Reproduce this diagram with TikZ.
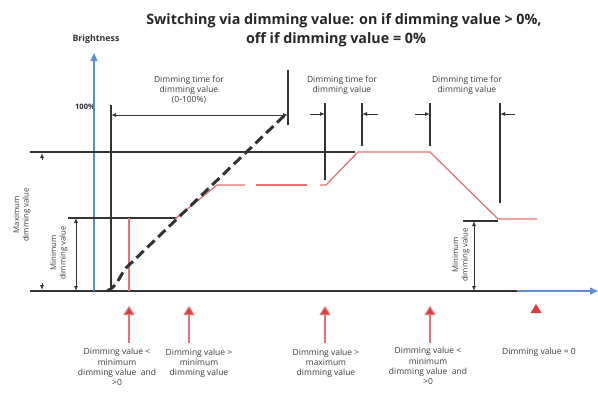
\documentclass[tikz,border=0pt]{standalone}
\usepackage{fontspec}
\setmainfont{Open Sans}
\usetikzlibrary{arrows.meta}
\definecolor{axblue}{HTML}{5B8FD0}
\definecolor{lnred}{HTML}{E57373}
\definecolor{arred}{HTML}{D93A3A}
\definecolor{txt}{HTML}{3A3A3A}
\begin{document}
\begin{tikzpicture}[x=1pt,y=-1pt,
  blk/.style={line width=1.2pt, draw=black!80},
  thin/.style={line width=0.9pt, draw=black!80},
  axis/.style={line width=1.2pt, draw=axblue},
  redln/.style={line width=1.3pt, draw=lnred},
  dashln/.style={line width=3pt, draw=black!80, dash pattern=on 10pt off 5pt},
  dim/.style={thin, {Latex[length=5pt,width=4pt]}-{Latex[length=5pt,width=4pt]}},
  tick/.style={thin, -{Latex[length=5pt,width=4pt]}},
  redarrow/.style={line width=1.2pt, draw=lnred, -{Triangle[length=9pt,width=11pt,fill=arred]}},
  lbl/.style={font=\fontsize{8.5}{10.2}\selectfont, text=txt, align=center, inner sep=0pt},
  rlbl/.style={font=\fontsize{7.8}{9.5}\selectfont, text=txt, align=center, inner sep=0pt, rotate=90},
  ttl/.style={font=\fontsize{14.3}{15}\selectfont\bfseries, text=black!85, inner sep=0pt}]
\useasboundingbox (0,0) rectangle (598,410);

% titles
\node[ttl] (title1) at (344,21) {Switching via dimming value: on if dimming value > 0\%,};
\node[ttl] (title2) at (336,40) {off if dimming value = 0\%};
\node[font=\fontsize{8.8}{10}\selectfont\bfseries, text=black!80, inner sep=0pt] (bright) at (96,39) {Brightness};
\node[font=\fontsize{7.5}{8}\selectfont\bfseries, text=black!85, inner sep=0pt] (hundred) at (85,107) {100\%};

% key coordinates
\coordinate (o) at (94,291);
\coordinate (ytop) at (94,53);
\coordinate (b0) at (30,291);
\coordinate (b1) at (517,291);
\coordinate (b2) at (598,291);
\coordinate (max0) at (30,152);
\coordinate (max1) at (355,152);
\coordinate (min0) at (68,218);
\coordinate (min1) at (177,218);
\coordinate (v1t) at (111,105); \coordinate (v1b) at (111,291);
\coordinate (v2t) at (288,70);  \coordinate (v2b) at (288,125);
\coordinate (v3t) at (325,103); \coordinate (v3b) at (325,180);
\coordinate (v4t) at (362,103); \coordinate (v4b) at (362,146);
\coordinate (v5t) at (430,103); \coordinate (v5b) at (430,146);
\coordinate (v6t) at (500,103); \coordinate (v6b) at (500,203);
\coordinate (rmin0) at (463,221); \coordinate (rmin1) at (498,221);

% axes
\draw[blk] (b0) -- (b1);
\draw[axis, -{Triangle[length=8pt,width=7pt]}] (b1) -- (b2);
\draw[axis, -{Triangle[length=8pt,width=7pt]}] (o) -- (ytop);

% horizontal level lines
\draw[blk] (max0) -- (max1);
\draw[blk] (min0) -- (min1);
\draw[blk] (rmin0) -- (rmin1);

% verticals
\draw[blk] (v1t) -- (v1b);
\draw[blk] (v2t) -- (v2b);
\draw[blk] (v3t) -- (v3b);
\draw[blk] (v4t) -- (v4b);
\draw[blk] (v5t) -- (v5b);
\draw[blk] (v6t) -- (v6b);

% dimension arrows
\coordinate (d1a) at (111,115); \coordinate (d1b) at (288,115);
\draw[dim] (d1a) -- (d1b);
\coordinate (t3) at (310,114); \coordinate (t3e) at (325,114);
\coordinate (t4) at (378,114); \coordinate (t4e) at (362,114);
\coordinate (t5) at (415,114); \coordinate (t5e) at (430,114);
\coordinate (t6) at (515,114); \coordinate (t6e) at (500,114);
\draw[tick] (t3) -- (t3e);
\draw[tick] (t4) -- (t4e);
\draw[tick] (t5) -- (t5e);
\draw[tick] (t6) -- (t6e);
\coordinate (lm0) at (76,218); \coordinate (lm1) at (76,291);
\draw[dim] (lm0) -- (lm1);
\coordinate (rm0) at (474,221); \coordinate (rm1) at (474,291);
\draw[dim] (rm0) -- (rm1);
\coordinate (mx0) at (42,160); \coordinate (mx0e) at (42,153);
\coordinate (mx1) at (42,283); \coordinate (mx1e) at (42,290);
\draw[tick] (mx0) -- (mx0e);
\draw[tick] (mx1) -- (mx1e);

% red vertical
\coordinate (rv0) at (129,218); \coordinate (rv1) at (129,291);
\draw[redln] (rv0) -- (rv1);

% red brightness curve
\coordinate (r1) at (175,219); \coordinate (r2) at (217,185); \coordinate (r3) at (245,185);
\coordinate (r4) at (256,185); \coordinate (r5) at (307,185);
\coordinate (r6) at (320,185); \coordinate (r7) at (326,185); \coordinate (r8) at (358,152);
\coordinate (r9) at (430,152); \coordinate (r10) at (498,219); \coordinate (r11) at (537,219);
\draw[redln] (r1) -- (r2) -- (r3);
\draw[redln] (r4) -- (r5);
\draw[redln] (r6) -- (r7) -- (r8) -- (r9) -- (r10) -- (r11);

% dashed ramp
\coordinate (ds0) at (107,291); \coordinate (ds1) at (128,266); \coordinate (ds2) at (286,114);
\draw[dashln] (ds0) .. controls (118,287) and (122,270) .. (ds1) -- (ds2);

% labels
\node[lbl] (lab1) at (189,90) {Dimming time for\\dimming value\\(0-100\%)};
\node[lbl] (lab2) at (342,85) {Dimming time for\\dimming value};
\node[lbl] (lab3) at (467,85) {Dimming time for\\dimming value};
\node[rlbl] (maxl) at (22,215) {Maximum\\dimming value};
\node[rlbl] (minl) at (59,253) {Minimum\\dimming value};
\node[rlbl] (minr) at (461,255) {Minimum\\dimming value};

% red arrows below
\coordinate (a1s) at (129,343); \coordinate (a1e) at (129,306);
\coordinate (a2s) at (189,343); \coordinate (a2e) at (189,306);
\coordinate (a3s) at (325,343); \coordinate (a3e) at (325,306);
\coordinate (a4s) at (430,343); \coordinate (a4e) at (430,306);
\draw[redarrow] (a1s) -- (a1e);
\draw[redarrow] (a2s) -- (a2e);
\draw[redarrow] (a3s) -- (a3e);
\draw[redarrow] (a4s) -- (a4e);
\fill[arred] (530.5,313) -- (541.5,313) -- (536,304) -- cycle;

\node[lbl] (c1) at (117,367) {Dimming value <\\minimum\\dimming value\ \ and\\>0};
\node[lbl] (c2) at (199,363) {Dimming value >\\minimum\\dimming value};
\node[lbl] (c3) at (326,363) {Dimming value >\\maximum\\dimming value};
\node[lbl] (c4) at (428,366) {Dimming value <\\minimum\\dimming value\ \ and\\>0};
\node[lbl] (c5) at (539,352) {Dimming value = 0};
\end{tikzpicture}
\end{document}
